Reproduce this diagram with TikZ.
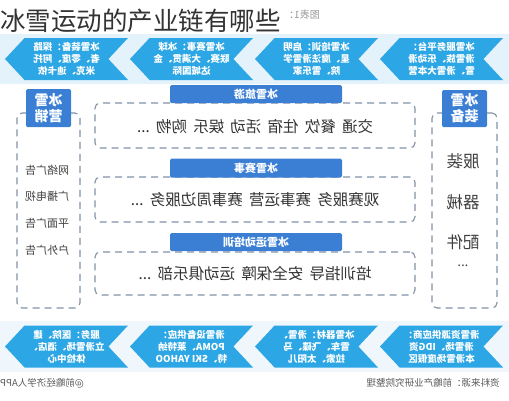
\documentclass[tikz,border=0pt]{standalone}
\usepackage{fontspec}
\setmainfont{Noto Sans CJK SC}
\usetikzlibrary{positioning,shapes.symbols}

\definecolor{chevblue}{RGB}{44,166,228}
\definecolor{headblue}{RGB}{58,127,212}
\definecolor{dashgray}{RGB}{128,146,166}
\definecolor{paleblue}{RGB}{228,242,251}

\newcommand{\wsp}{\hspace{0.4em}}

\begin{document}
\begin{tikzpicture}[x=1pt, y=-1pt,
flip/.style={xscale=-1},
chev node/.style={signal, signal to=east, signal from=west, signal pointer angle=94,
  fill=chevblue, minimum width=123pt, minimum height=42pt, inner sep=0pt,
  text=white, font=\fontsize{9.5}{12}\selectfont\bfseries, align=center, flip},
dash node/.style={draw=dashgray, dash pattern=on 7pt off 5pt, line width=1.1pt,
  rounded corners=5pt, inner sep=0pt},
head node/.style={fill=headblue, rounded corners=1.5pt, text=white, inner sep=0pt,
  font=\fontsize{11}{13}\selectfont\bfseries, align=center, flip},
item node/.style={inner sep=0pt, text=black!75, font=\fontsize{11}{12}\selectfont, flip},
line node/.style={inner sep=0pt, text=black!80, font=\fontsize{15.5}{17}\selectfont, flip}]

\useasboundingbox (0,0) rectangle (509,400);

% chevron bands
\fill[paleblue] (0,34) rectangle (509,84);
\fill[paleblue!60] (0,321) rectangle (509,372);

\node[flip, inner sep=0pt, text=black!40, font=\fontsize{10}{10}\selectfont] (fig) at (302,15) {图表1：};
\node[anchor=west, inner sep=0pt, text=black!80, font=\fontsize{25.5}{26}\selectfont] (title) at (0,21) {冰雪运动的产业链有哪些};

% top row
\node[chev node] (t1) at (66.5,59) {冰雪装备：探路\\者、零度、阿托\\米克、迪卡侬};
\node[chev node] (t2) at (191.5,59) {冰雪赛事：冰球\\联赛、大满贯、金\\达城国际};
\node[chev node] (t3) at (316.5,59) {冰雪培训：启明\\星、魔法滑雪学\\院、雪乐家};
\node[chev node] (t4) at (441.5,59) {冰雪服务平台：\\滑雪族、乐动滑\\雪、滑雪大本营};

% middle boxes
\node[dash node, minimum width=320pt, minimum height=45pt] (lybox) at (255,125.5) {};
\node[head node, minimum width=172pt, minimum height=18pt] (lyhead) at (256,94) {冰雪旅游};
\node[line node] (lytext) at (255,127) {交通\wsp 餐饮\wsp 住宿\wsp 活动\wsp 娱乐\wsp 购物\wsp ...};

\node[dash node, minimum width=320pt, minimum height=45pt] (ssbox) at (255,199.5) {};
\node[head node, minimum width=172pt, minimum height=19pt] (sshead) at (256,168) {冰雪赛事};
\node[line node] (sstext) at (255,200) {观赛服务\wsp 赛事运营\wsp 赛事周边服务\wsp ...};

\node[dash node, minimum width=320pt, minimum height=43pt] (pxbox) at (255,273.5) {};
\node[head node, minimum width=172pt, minimum height=18pt] (pxhead) at (256,242) {冰雪运动培训};
\node[line node] (pxtext) at (255,274) {培训指导\wsp 安全保障\wsp 运动俱乐部\wsp ...};

% left column
\node[dash node, minimum width=63pt, minimum height=195pt] (yxbox) at (48.5,210.5) {};
\node[head node, minimum width=45pt, minimum height=38pt, font=\fontsize{14}{16}\selectfont\bfseries] (yxhead) at (48.5,108) {冰雪\\营销};
\node[item node] (yx1) at (47,170) {网络广告};
\node[item node] (yx2) [below=16pt of yx1] {广播电视};
\node[item node] (yx3) [below=16pt of yx2] {平面广告};
\node[item node] (yx4) [below=16pt of yx3] {户外广告};

% right column
\node[dash node, minimum width=65pt, minimum height=195pt] (zbbox) at (464.5,210.5) {};
\node[head node, minimum width=45pt, minimum height=37pt, font=\fontsize{14}{16}\selectfont\bfseries] (zbhead) at (464.5,108.5) {冰雪\\装备};
\node[item node, font=\fontsize{16.5}{17}\selectfont] (zb1) at (463,161) {服装};
\node[item node, font=\fontsize{16.5}{17}\selectfont] (zb2) at (463,202) {器械};
\node[item node, font=\fontsize{16.5}{17}\selectfont] (zb3) at (463,242) {配件};
\node[item node, font=\fontsize{13}{14}\selectfont] (zb4) at (463,266) {...};

% bottom row
\node[chev node] (b1) at (66.5,346.5) {服务：医院、建\\立滑雪场、酒店、\\体检中心};
\node[chev node] (b2) at (191.5,346.5) {滑雪设备供应：\\POMA、莱特纳\\特、SKI YAHOO};
\node[chev node] (b3) at (316.5,346.5) {冰雪器材：滑雪、\\雪车、飞碟、马\\拉索、太阳儿};
\node[chev node] (b4) at (441.5,346.5) {滑雪资源供应商：\\滑雪场、IDG资\\本滑雪场度假区};

% footer
\node[flip, inner sep=0pt, text=black!65, font=\fontsize{9.5}{10}\selectfont] (app) at (42,383) {@前瞻经济学人APP};
\node[flip, inner sep=0pt, text=black!65, font=\fontsize{9.5}{10}\selectfont] (src) at (433,383) {资料来源：前瞻产业研究院整理};
\end{tikzpicture}
\end{document}
